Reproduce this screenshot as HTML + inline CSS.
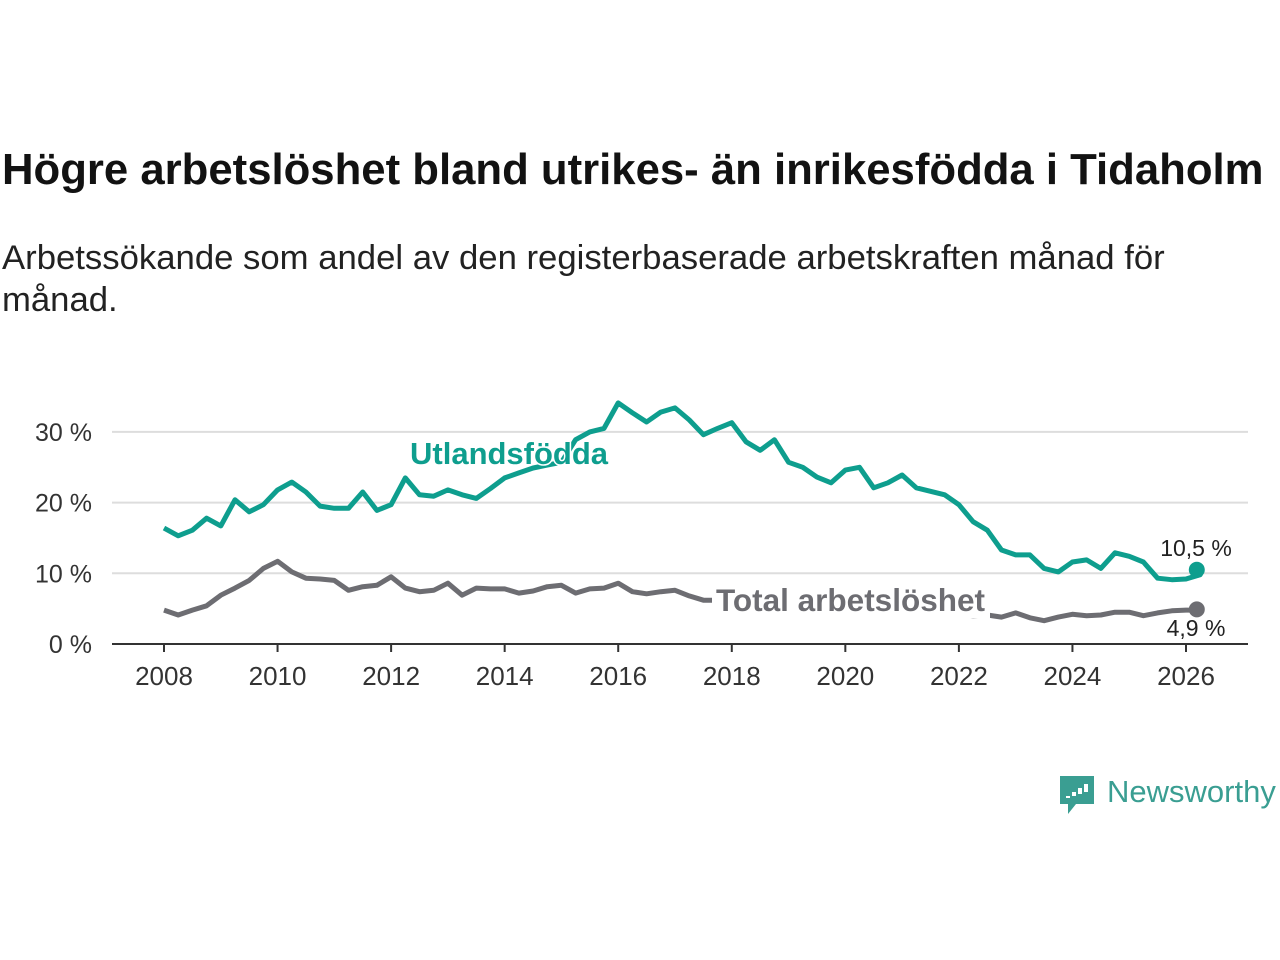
<!DOCTYPE html>
<html><head><meta charset="utf-8"><style>
body{margin:0;width:1280px;height:960px;background:#fff;font-family:"Liberation Sans",sans-serif;position:relative;overflow:hidden;color:#111}
h1{position:absolute;left:2px;top:145px;margin:0;font-size:43.7px;font-weight:bold;white-space:nowrap;color:#121212}
p{position:absolute;left:2px;top:237px;margin:0;font-size:34.7px;line-height:42px;width:1190px;color:#222}
svg{position:absolute;left:0;top:0}
</style></head><body>
<h1>Högre arbetslöshet bland utrikes- än inrikesfödda i Tidaholm</h1>
<p>Arbetssökande som andel av den registerbaserade arbetskraften månad för månad.</p>
<svg id="chart" width="1280" height="960"></svg>
<script>
const years=[2008,2010,2012,2014,2016,2018,2020,2022,2024,2026];
const yTicks=[0,10,20,30];
const foreign=[16.4,15.3,16.1,17.8,16.7,20.4,18.7,19.7,21.8,22.9,21.5,19.5,19.2,19.2,21.5,18.9,19.7,23.5,21.1,20.9,21.8,21.1,20.6,22,23.5,24.2,24.9,25.3,25.7,28.9,30,30.5,34.1,32.7,31.4,32.8,33.4,31.7,29.6,30.5,31.3,28.6,27.4,28.9,25.7,25,23.6,22.8,24.6,25,22.1,22.8,23.9,22.1,21.6,21.1,19.7,17.3,16.1,13.3,12.6,12.6,10.7,10.2,11.6,11.9,10.7,12.9,12.4,11.6,9.3,9.1,9.2,9.8,10.5];
const total=[4.8,4.1,4.8,5.4,6.9,7.9,9,10.7,11.7,10.2,9.3,9.2,9,7.6,8.1,8.3,9.5,7.9,7.4,7.6,8.6,6.9,7.9,7.8,7.8,7.2,7.5,8.1,8.3,7.2,7.8,7.9,8.6,7.4,7.1,7.4,7.6,6.8,6.2,6.2,6.0,5.8,5.6,5.5,5.4,5.2,5.0,4.9,4.8,4.7,4.6,4.5,4.4,4.3,4.3,4.2,4.2,4.0,4.1,3.8,4.4,3.7,3.3,3.8,4.2,4.0,4.1,4.5,4.5,4.0,4.4,4.7,4.8,4.8,4.9];
const startYear=2008, step=0.25, lastT=2026.19;
const X=t=>164+(t-2008)*(1186-164)/18;
const Y=v=>644-v*7.07;
const tAt=i=>i===foreign.length-1?lastT:startYear+i*step;
const svg=document.getElementById('chart');
const NS='http://www.w3.org/2000/svg';
function mk(tag,attrs,parent){const e=document.createElementNS(NS,tag);for(const k in attrs)e.setAttribute(k,attrs[k]);(parent||svg).appendChild(e);return e;}
yTicks.forEach(v=>{
 if(v>0){const g=mk('line',{x1:112,x2:1248,y1:Y(v),y2:Y(v),stroke:'#ddd','stroke-width':2});
 
 }
 const t=mk('text',{x:92,y:Y(v)+9,'text-anchor':'end','font-size':25,fill:'#333'});t.textContent=v+' %';
 
 
});
const ax=mk('line',{x1:112,x2:1248,y1:644,y2:644,stroke:'#333','stroke-width':2});


years.forEach(y=>{
 const tk=mk('line',{x1:X(y),x2:X(y),y1:644,y2:652,stroke:'#333','stroke-width':2});
 
 
 const t=mk('text',{x:X(y),y:685,'text-anchor':'middle','font-size':26,fill:'#333'});t.textContent=y;
 
 
});
function line(arr,color,name){
 const d=arr.map((v,i)=>(i?'L':'M')+X(tAt(i)).toFixed(1)+','+Y(v).toFixed(1)).join('');
 const p=mk('path',{d:d,fill:'none',stroke:color,'stroke-width':5,'stroke-linejoin':'round'});
 
 
 const i=arr.length-1;
 const c=mk('circle',{cx:X(tAt(i)),cy:Y(arr[i]),r:8,fill:color});
 
 
}
line(total,'#6d6d72','total');
line(foreign,'#0e9e8e','foreign-born');
function label(txt,x,y,color,name,halo,fs){
 const t=mk('text',{x:x,y:y,'font-size':fs,'font-weight':'bold',fill:color,stroke:'#fff','stroke-width':halo,'paint-order':'stroke','stroke-linejoin':'round'});
 t.textContent=txt;
 
 
}
const bg=mk('rect',{x:712,y:582,width:278,height:36,fill:'#fff'});


label('Utlandsfödda',410,464,'#0e9e8e','foreign-born-label',3,31);
label('Total arbetslöshet',716,611,'#6d6d72','total-label',4,31.5);
const v1=mk('text',{x:1196,y:556,'text-anchor':'middle','font-size':23,fill:'#222'});v1.textContent='10,5 %';


const v2=mk('text',{x:1196,y:636,'text-anchor':'middle','font-size':23,fill:'#222'});v2.textContent='4,9 %';


// logo
const lg=mk('g',{});


mk('path',{d:'M1060,776 h34 v28 h-18 l-8,10 v-10 h-8 z',fill:'#3a9e92'},lg);
[[1066,796,4],[1072,792,8],[1078,788,12],[1084,784,16]].forEach(b=>mk('rect',{x:b[0],y:b[1],width:4,height:b[2]*0.5,fill:'#fff'},lg));
const lt=mk('text',{x:1107,y:802,'font-size':31,fill:'#3a9e92'},lg);lt.textContent='Newsworthy';
</script>
</body></html>
